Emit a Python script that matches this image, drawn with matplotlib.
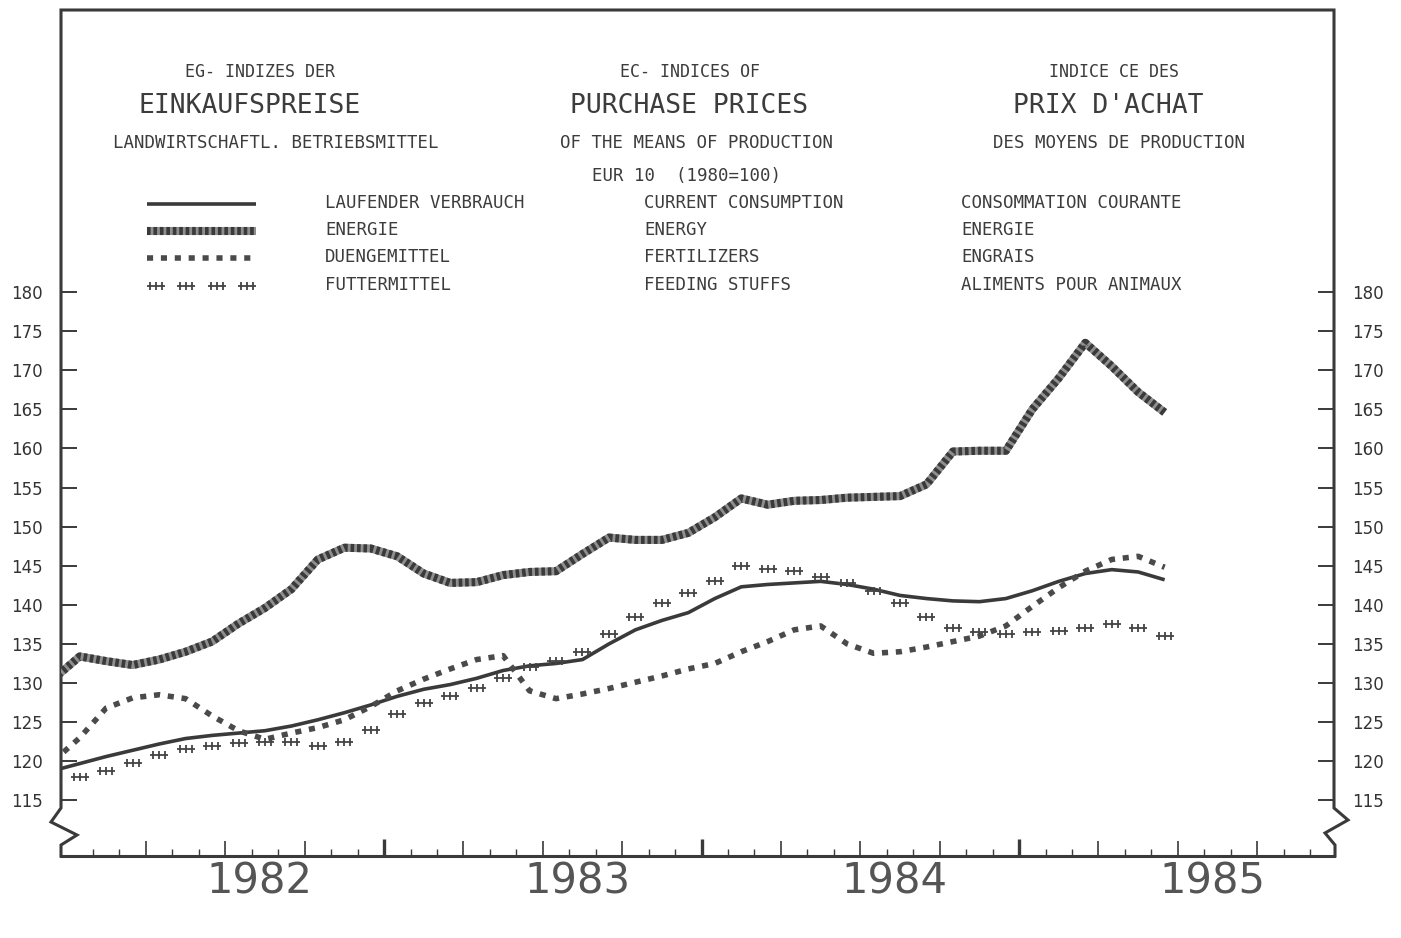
import numpy as np
import pandas as pd
import matplotlib
matplotlib.use('Agg')
import matplotlib.pyplot as plt
from matplotlib.path import Path

# monthly index values, Dec 1981 .. Jun 1985 (1980=100)
months = pd.period_range('1981-12', '1985-06', freq='M')

laufender = [118.8, 119.7, 120.6, 121.4, 122.2, 122.9, 123.3, 123.6, 123.9, 124.5,
             125.3, 126.2, 127.2, 128.3, 129.2, 129.8, 130.6, 131.6, 132.2, 132.5,
             133.0, 135.0, 136.8, 138.0, 139.0, 140.8, 142.3, 142.6, 142.8, 143.0,
             142.6, 142.0, 141.2, 140.8, 140.5, 140.4, 140.8, 141.8, 143.0, 144.0,
             144.5, 144.2, 143.2]
energie = [130.5, 133.4, 132.8, 132.3, 133.0, 134.0, 135.3, 137.6, 139.6, 142.0,
           145.8, 147.3, 147.2, 146.2, 144.0, 142.8, 142.9, 143.8, 144.2, 144.3,
           146.5, 148.6, 148.3, 148.3, 149.2, 151.2, 153.6, 152.8, 153.3, 153.4,
           153.7, 153.8, 153.9, 155.4, 159.6, 159.7, 159.7, 165.0, 169.0, 173.5,
           170.5, 167.2, 164.6]
duenge = [120.0, 123.0, 126.8, 128.1, 128.5, 128.0, 125.8, 123.9, 122.8, 123.6,
          124.3, 125.3, 127.0, 129.0, 130.5, 131.8, 133.0, 133.5, 129.0, 128.0,
          128.6, 129.3, 130.1, 130.9, 131.8, 132.5, 134.0, 135.3, 136.8, 137.3,
          135.0, 133.8, 134.0, 134.6, 135.3, 136.0, 137.3, 139.8, 142.2, 144.3,
          145.8, 146.2, 144.8]
futter = [117.3, 118.0, 118.8, 119.8, 120.8, 121.5, 122.0, 122.3, 122.5, 122.4,
          122.0, 122.4, 124.0, 126.0, 127.5, 128.3, 129.4, 130.6, 132.0, 132.8,
          134.0, 136.3, 138.5, 140.2, 141.5, 143.0, 145.0, 144.6, 144.3, 143.6,
          142.8, 141.8, 140.2, 138.5, 137.0, 136.5, 136.3, 136.5, 136.7, 137.0,
          137.5, 137.0, 136.0]

years = [1982, 1983, 1984, 1985]
yticks = list(range(115, 181, 5))

names_de = ['LAUFENDER VERBRAUCH', 'ENERGIE', 'DUENGEMITTEL', 'FUTTERMITTEL']
names_en = ['CURRENT CONSUMPTION', 'ENERGY', 'FERTILIZERS', 'FEEDING STUFFS']
names_fr = ['CONSOMMATION COURANTE', 'ENERGIE', 'ENGRAIS', 'ALIMENTS POUR ANIMAUX']

# x position in months from 1 Jan 1982, points at mid-month
x = np.array([(p.year - 1982) * 12 + (p.month - 1) + 0.5 for p in months])

W, H = 1401, 938
ink = '#3a3a3a'
txtc = '#3c3c3c'
mono = 'DejaVu Sans Mono'

fig = plt.figure(figsize=(W / 100, H / 100), dpi=100)
fig.patch.set_facecolor('white')
L, R, T, B = 61, 1334, 10, 856
ax = fig.add_axes([L / W, 1 - B / H, (R - L) / W, (B - T) / H])
ax.set_xlim(-0.208, 47.9)
ax.set_ylim(107.88, 216.06)
ax.patch.set_alpha(0)
for s in ['top', 'left', 'right']:
    ax.spines[s].set_visible(False)
ax.spines['bottom'].set_linewidth(2.2)
ax.spines['bottom'].set_color(ink)


def axc(px, py):
    # reference pixel -> axes fraction
    return (px - L) / (R - L), (B - py) / (B - T)


def frame_line(pts, **kw):
    xs, ys = zip(*[axc(px, py) for px, py in pts])
    ax.plot(xs, ys, transform=ax.transAxes, clip_on=False, color=ink,
            lw=2.2, solid_joinstyle='miter', **kw)


# frame + broken axes
frame_line([(61, 856), (61, 845), (77, 835), (51, 822), (61, 808), (61, 10),
            (1334, 10), (1334, 808), (1348, 820), (1325, 833), (1335, 845), (1335, 856)])

# y ticks both sides
ax.set_yticks(yticks)
ax.tick_params(axis='y', direction='in', length=11.5, width=1.4, color=ink,
               left=True, right=True, labelleft=True, labelright=True,
               pad=13, labelsize=12, labelcolor='#333333')

# x ticks: months and quarters, years drawn heavier
ax.set_xticks([q for q in range(3, 48, 3)])
ax.set_xticks([m for m in range(1, 48) if m % 3], minor=True)
ax.tick_params(axis='x', which='major', direction='in', length=11, width=1.2,
               color=ink, labelbottom=False)
ax.tick_params(axis='x', which='minor', direction='in', length=5, width=1.0,
               color=ink)
ax.vlines([12, 24, 36], 0, 17 / (B - T), transform=ax.get_xaxis_transform(),
          color=ink, lw=2.4)
for i, yr in enumerate(years):
    ax.text(i * 12 + 7.3, -(881 - B) / (B - T), str(yr),
            transform=ax.get_xaxis_transform(), ha='center', va='center',
            fontsize=30, color='#555555', family='DejaVu Sans')

# plus-group marker for feeding stuffs
plus3 = Path([(-1, 0), (1, 0), (-0.7, -0.4), (-0.7, 0.4), (0, -0.4), (0, 0.4),
              (0.7, -0.4), (0.7, 0.4)],
             [Path.MOVETO, Path.LINETO] * 4)

style_lauf = dict(color=ink, lw=2.6, solid_capstyle='butt')
style_en_base = dict(color='#8f8f8f', lw=5.8, solid_capstyle='butt')
style_en_top = dict(color='#3a3a3a', lw=5.8, dashes=(0.45, 0.35), dash_capstyle='butt')
style_due = dict(color='#4a4a4a', lw=4, dashes=(1.1, 1.4), dash_capstyle='butt')
style_fut = dict(color='#444444', ls='none', marker=plus3, markersize=13,
                 markeredgewidth=1.3)

ax.plot(x, laufender, **style_lauf)
ax.plot(x, energie, **style_en_base)
ax.plot(x, energie, **style_en_top)
ax.plot(x, duenge, **style_due)
ax.plot(x, futter, **style_fut)

# titles
def ftext(px, py, s, size, **kw):
    fig.text(px / W, 1 - py / H, s, fontsize=size, family=mono, color=txtc,
             ha=kw.pop('ha', 'center'), va='center', **kw)


ftext(260, 72, 'EG- INDIZES DER', 12)
ftext(250, 106, 'EINKAUFSPREISE', 19)
ftext(276, 143, 'LANDWIRTSCHAFTL. BETRIEBSMITTEL', 12.5)
ftext(690, 72, 'EC- INDICES OF', 12)
ftext(689, 106, 'PURCHASE PRICES', 19)
ftext(696, 143, 'OF THE MEANS OF PRODUCTION', 12.5)
ftext(686, 176, 'EUR 10  (1980=100)', 12.5)
ftext(1114, 72, 'INDICE CE DES', 12)
ftext(1108, 106, "PRIX D'ACHAT", 19)
ftext(1119, 143, 'DES MOYENS DE PRODUCTION', 12.5)

# legend rows
rows = [204, 231, 258, 286]
x0, x1 = axc(147, 0)[0], axc(256, 0)[0]
ax.plot([x0, x1], [axc(0, rows[0])[1]] * 2, transform=ax.transAxes, clip_on=False, **style_lauf)
ax.plot([x0, x1], [axc(0, rows[1])[1]] * 2, transform=ax.transAxes, clip_on=False, **style_en_base)
ax.plot([x0, x1], [axc(0, rows[1])[1]] * 2, transform=ax.transAxes, clip_on=False, **style_en_top)
ax.plot([x0, x1], [axc(0, rows[2])[1]] * 2, transform=ax.transAxes, clip_on=False, **style_due)
ax.plot(np.linspace(axc(156, 0)[0], axc(247, 0)[0], 4), [axc(0, rows[3])[1]] * 4,
        transform=ax.transAxes, clip_on=False, **style_fut)

for r, de, en, fr in zip(rows, names_de, names_en, names_fr):
    ftext(325, r - 1, de, 12.5, ha='left')
    ftext(644, r - 1, en, 12.5, ha='left')
    ftext(961, r - 1, fr, 12.5, ha='left')

fig.savefig('out.png', dpi=100)
